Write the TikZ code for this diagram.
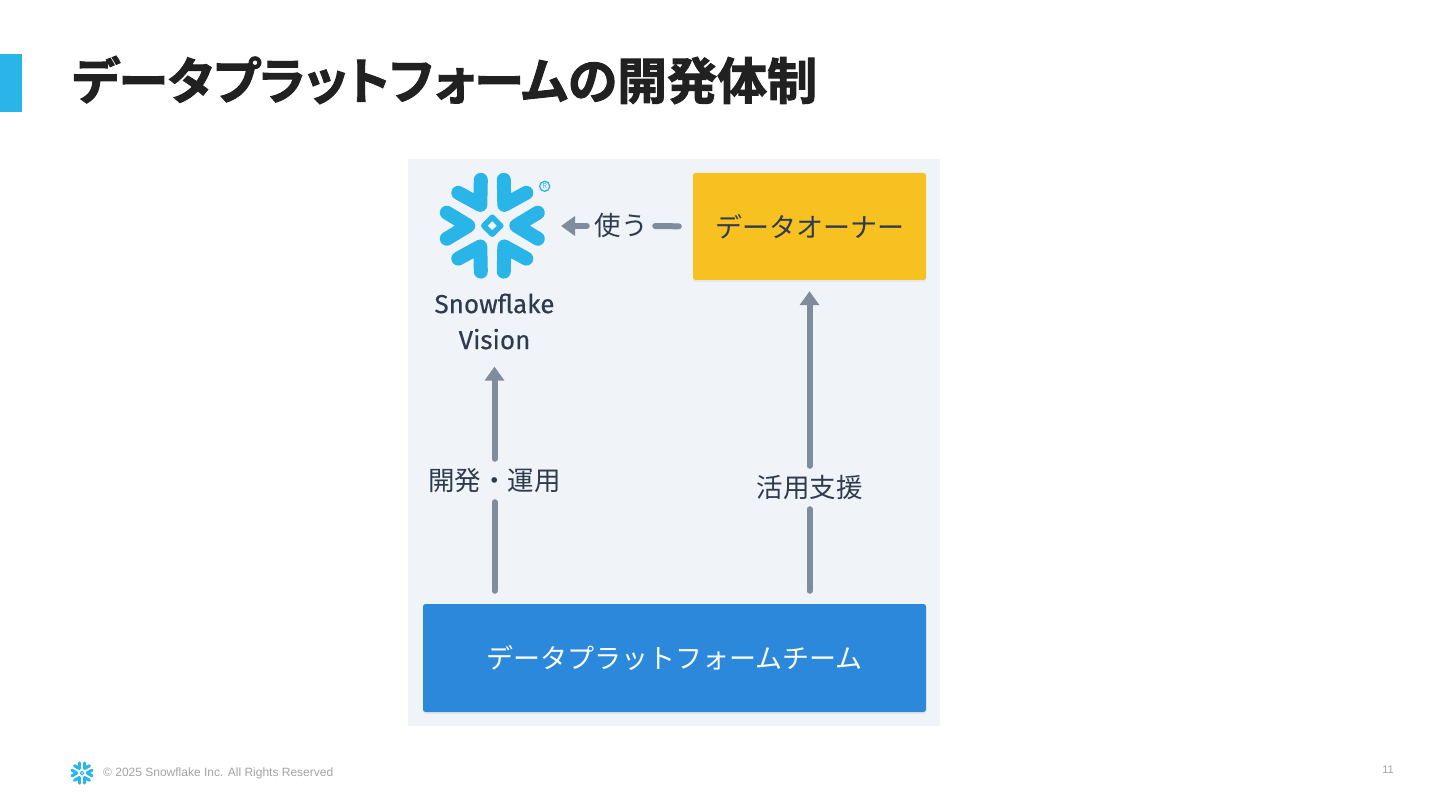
\documentclass[tikz,border=0pt]{standalone}
\usepackage{fontspec}
\setmainfont{Noto Sans}
\newfontfamily\cjkfont{Noto Sans CJK JP}
\newfontfamily\titlefont[RawFeature=+palt,BoldFont=Noto Sans CJK JP Bold,BoldFeatures={FakeBold=2,RawFeature=+palt}]{Noto Sans CJK JP}
\newfontfamily\footfont{Liberation Sans}
\newfontfamily\logofont[FakeBold=.35]{Fira Sans}
\usetikzlibrary{arrows.meta}
\usetikzlibrary{shadows}
\definecolor{snowblue}{HTML}{29B5E8}
\definecolor{panelgray}{HTML}{F0F4F8}
\definecolor{teamblue}{HTML}{2B88DA}
\definecolor{owneryellow}{HTML}{F7C122}
\definecolor{flowgray}{HTML}{7E8C9C}
\definecolor{inkdark}{HTML}{2E3B4E}
\definecolor{footgray}{HTML}{A3A3A3}
\newcommand{\flakelogo}[3]{
	\foreach \a in {0,60,...,300}
		\draw[snowblue,line width=#3*14pt,line cap=round,line join=round,shift={(#1,#2)},rotate=\a]
			(-45.5*#3,-13*#3) -- (-24*#3,0) -- (-45.5*#3,13*#3);
	\draw[snowblue,line width=#3*5.5pt,line join=round,shift={(#1,#2)}]
		(-8.5*#3,0) -- (0,-8.5*#3) -- (8.5*#3,0) -- (0,8.5*#3) -- cycle;
}
\tikzset{
	boxnode/.style={rounded corners=2.5pt,text=white,inner sep=0pt,font=\cjkfont\fontsize{27}{32}\selectfont,drop shadow={opacity=.1,shadow xshift=0pt,shadow yshift=-2pt}},
	flowlabel/.style={inner sep=0pt,text=inkdark,font=\cjkfont\fontsize{26.5}{32}\selectfont},
	flow/.style={draw=flowgray,line width=6pt,line cap=round},
	flowtip/.style={flow,-{Triangle[width=19pt,length=14pt]}}
}

\begin{document}
\begin{tikzpicture}[x=1pt,y=-1pt]
	\useasboundingbox (0,0) rectangle (1440,810);

	\fill[snowblue] (0,54) rectangle (22,112);
	\node[anchor=west,inner sep=0pt,text=black!87,font=\titlefont\bfseries\fontsize{50}{58}\selectfont] (title) at (72,80) {データプラットフォームの開発体制};

	\fill[panelgray] (408,159) rectangle (940,726);

	\node[boxnode,fill=owneryellow,text=inkdark,minimum width=233pt,minimum height=107pt] (owner) at (809.5,226.5) {データオーナー};
	\node[boxnode,fill=teamblue,minimum width=503pt,minimum height=108pt] (team) at (674.5,658) {データプラットフォームチーム};

	\flakelogo{492.3}{225.7}{1}
	\node[circle,draw=snowblue,line width=1.3pt,text=snowblue,inner sep=0pt,minimum size=10pt,font=\bfseries\fontsize{7}{7}\selectfont] (reg) at (544.7,186.3) {R};
	\node[align=center,inner sep=0pt,text=inkdark,font=\logofont\fontsize{26}{36}\selectfont] (vision) at (494.5,321.5) {Snowflake\\Vision};

	\node[flowlabel,minimum height=37pt] (develop) at (494.5,480.5) {開発・運用};
	\node[flowlabel,minimum height=37pt] (support) at (809.5,487.5) {活用支援};
	\node[flowlabel,minimum width=62pt] (use) at (621,226) {\raisebox{3pt}{使う}};
	\coordinate (logoeast) at (561,226);

	\path (team.north -| develop) edge[flow,shorten <=13pt,shorten >=3pt] (develop.south)
		(develop.north) edge[flowtip,shorten <=3pt,shorten >=17pt] (vision.south)
		(team.north -| support) edge[flow,shorten <=13pt,shorten >=3pt] (support.south)
		(support.north) edge[flowtip,shorten <=3pt,shorten >=11pt] (owner.south)
		(owner.west) edge[flow,shorten <=14pt,shorten >=3pt] (use.east)
		(use.west) edge[flowtip,shorten <=3pt] (logoeast);

	\flakelogo{82}{773}{.22}
	\node[anchor=west,inner sep=0pt,text=footgray,font=\footfont\fontsize{12}{14}\selectfont] (copyright) at (103,773.5) {© 2025 Snowflake Inc. All Rights Reserved};
	\node[inner sep=0pt,text=footgray,font=\footfont\fontsize{11}{13}\selectfont] (page) at (1388,770) {11};
\end{tikzpicture}
\end{document}
